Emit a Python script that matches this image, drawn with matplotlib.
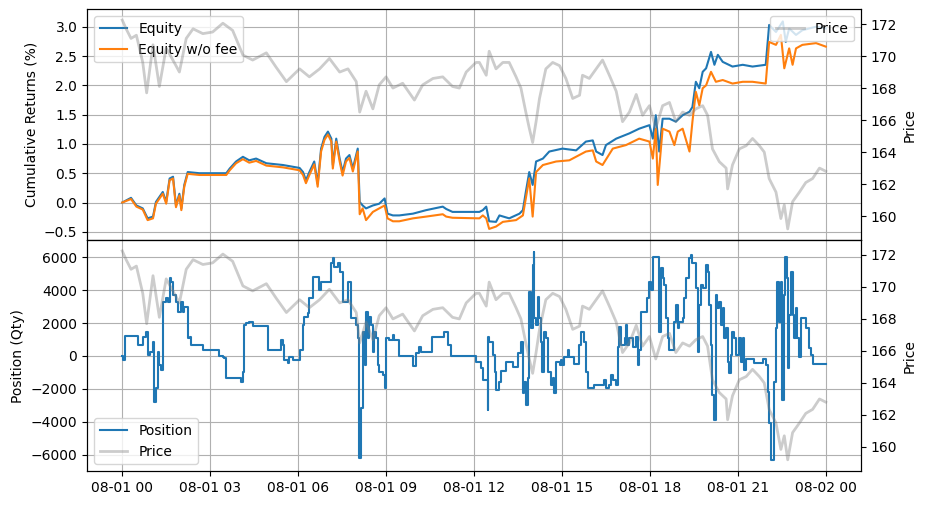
import pandas as pd
import numpy as np
import matplotlib.pyplot as plt
import matplotlib.dates as mdates

# minutes after 08-01 00:00
price_min = [0, 8, 18, 29, 42, 50, 63, 76, 90, 110, 117, 131, 145, 165, 185, 206, 226, 247, 267, 295,
             315, 336, 363, 383, 404, 424, 445, 462, 479, 486, 499, 513, 526, 540, 554, 574, 598, 615,
             636, 656, 676, 690, 704, 724, 731, 745, 751, 765, 779, 792, 806, 816, 826, 833, 840, 847,
             854, 867, 881, 895, 908, 922, 936, 942, 956, 970, 983, 997, 1011, 1024, 1038, 1052, 1065,
             1079, 1092, 1106, 1120, 1133, 1147, 1161, 1174, 1188, 1198, 1208, 1222, 1236, 1239, 1249,
             1263, 1277, 1290, 1304, 1314, 1324, 1338, 1348, 1355, 1362, 1372, 1386, 1399, 1413, 1427,
             1440]
price_val = [172.25, 171.7, 171.1, 171.3, 169.6, 167.7, 170.7, 168.1, 170.5, 169.4, 169.0, 171.1, 171.7,
             171.4, 171.5, 172.05, 171.6, 170.06, 169.75, 170.2, 169.3, 168.4, 169.2, 168.7, 169.2,
             169.85, 169.0, 169.2, 168.4, 166.5, 167.8, 166.7, 168.2, 168.7, 168.0, 168.3, 167.25, 168.2,
             168.6, 168.7, 168.1, 168.0, 169.0, 169.6, 169.6, 168.8, 170.3, 169.2, 169.6, 169.6, 168.7,
             168.0, 166.5, 165.5, 164.6, 165.9, 167.35, 169.2, 169.6, 169.4, 168.6, 167.35, 167.55,
             168.8, 168.6, 169.2, 169.75, 168.8, 167.8, 165.9, 166.5, 167.6, 166.3, 166.9, 165.5, 166.9,
             167.1, 165.9, 166.5, 166.3, 166.7, 166.9, 166.3, 164.2, 163.4, 163.0, 161.7, 163.2, 164.2,
             164.4, 164.85, 164.4, 164.0, 162.35, 161.5, 159.85, 160.7, 159.2, 160.9, 161.5, 162.1,
             162.35, 163.0, 162.8]

equity_min = [0, 18, 29, 42, 52, 63, 69, 83, 90, 97, 104, 110, 117, 121, 127, 134, 158, 213, 220, 233,
              247, 260, 274, 295, 329, 363, 370, 376, 383, 393, 400, 407, 414, 421, 428, 431, 438, 445,
              451, 458, 465, 472, 482, 486, 492, 499, 513, 526, 537, 543, 554, 567, 595, 622, 656, 663,
              676, 731, 738, 745, 751, 765, 772, 792, 813, 820, 826, 833, 840, 847, 861, 874, 901, 929,
              949, 963, 970, 983, 990, 1011, 1038, 1058, 1079, 1086, 1092, 1099, 1106, 1120, 1133, 1147,
              1161, 1167, 1174, 1181, 1188, 1195, 1205, 1212, 1219, 1229, 1249, 1270, 1290, 1317, 1324,
              1338, 1352, 1358, 1365, 1379, 1392, 1420, 1440]
equity_val = [0.0, 0.08, -0.05, -0.10, -0.27, -0.24, 0.01, 0.18, 0.01, 0.41, 0.44, -0.05, 0.15, -0.10,
              0.30, 0.52, 0.50, 0.50, 0.58, 0.70, 0.78, 0.72, 0.75, 0.67, 0.64, 0.59, 0.52, 0.38, 0.52,
              0.70, 0.32, 0.92, 1.12, 1.21, 1.09, 0.64, 1.09, 0.75, 0.52, 0.75, 0.81, 0.58, 0.92, 0.01,
              -0.05, -0.10, -0.05, -0.02, 0.07, -0.19, -0.22, -0.22, -0.19, -0.13, -0.07, -0.11, -0.16,
              -0.16, -0.13, -0.07, -0.32, -0.33, -0.22, -0.27, -0.19, -0.13, 0.18, 0.52, 0.30, 0.70, 0.75,
              0.87, 0.92, 0.89, 1.04, 1.06, 0.87, 0.81, 0.98, 1.09, 1.18, 1.26, 1.32, 1.09, 1.49, 0.87,
              1.43, 1.43, 1.38, 1.49, 1.55, 1.63, 2.06, 1.95, 2.23, 2.29, 2.57, 2.35, 2.52, 2.40, 2.32,
              2.35, 2.32, 2.35, 3.03, 2.91, 3.09, 2.74, 2.97, 2.86, 2.94, 3.00, 2.97]

nofee_min = [0, 18, 29, 42, 52, 63, 69, 83, 90, 97, 104, 110, 117, 121, 127, 134, 158, 213, 220, 233,
             247, 260, 274, 295, 329, 363, 370, 376, 383, 393, 400, 407, 414, 421, 428, 431, 438, 445,
             451, 458, 465, 472, 482, 486, 492, 499, 513, 526, 537, 543, 554, 567, 595, 622, 656, 663,
             676, 731, 738, 745, 751, 765, 779, 806, 820, 826, 833, 840, 847, 861, 888, 915, 949, 963,
             970, 983, 1004, 1031, 1058, 1079, 1086, 1092, 1096, 1102, 1106, 1120, 1130, 1137, 1147,
             1161, 1167, 1174, 1181, 1188, 1195, 1205, 1215, 1229, 1249, 1270, 1290, 1317, 1324, 1338,
             1348, 1355, 1365, 1372, 1379, 1392, 1420, 1440]
nofee_val = [0.0, 0.06, -0.07, -0.12, -0.30, -0.27, -0.02, 0.15, -0.02, 0.38, 0.41, -0.08, 0.12, -0.13,
             0.27, 0.49, 0.47, 0.47, 0.55, 0.67, 0.74, 0.68, 0.71, 0.63, 0.60, 0.55, 0.47, 0.33, 0.47,
             0.65, 0.27, 0.87, 1.07, 1.16, 1.04, 0.58, 1.04, 0.70, 0.46, 0.70, 0.76, 0.53, 0.87, -0.20,
             -0.10, -0.30, -0.16, -0.10, -0.05, -0.27, -0.32, -0.32, -0.27, -0.24, -0.20, -0.24, -0.26,
             -0.27, -0.22, -0.27, -0.45, -0.41, -0.33, -0.30, -0.22, 0.07, 0.41, -0.24, 0.52, 0.64, 0.70,
             0.72, 0.87, 0.89, 0.70, 0.64, 0.92, 0.98, 1.09, 1.04, 0.75, 1.26, 0.30, 0.87, 1.26, 1.21,
             0.98, 1.21, 1.26, 0.87, 1.38, 1.89, 1.66, 1.95, 2.00, 2.23, 2.06, 2.09, 2.03, 2.06, 2.06,
             2.03, 2.74, 2.69, 2.86, 2.29, 2.63, 2.35, 2.63, 2.69, 2.72, 2.66]

pos_min = [0, 2, 6, 32, 42, 48, 52, 56, 63, 66, 69, 73, 76, 80, 83, 90, 93, 97, 100, 104, 110, 114, 121,
           124, 127, 134, 138, 141, 165, 199, 206, 209, 213, 243, 247, 250, 254, 260, 267, 298, 325, 329,
           332, 339, 342, 349, 363, 370, 373, 380, 383, 390, 402, 407, 427, 431, 434, 441, 445, 451, 462,
           468, 479, 482, 485, 489, 492, 496, 499, 502, 506, 509, 513, 516, 520, 523, 526, 533, 537, 540,
           547, 554, 557, 567, 595, 601, 608, 612, 635, 659, 666, 673, 724, 734, 738, 748, 749, 751, 758,
           762, 765, 772, 775, 785, 799, 809, 816, 820, 823, 826, 830, 833, 837, 840, 842, 843, 847, 850,
           854, 857, 860, 864, 867, 871, 878, 881, 884, 888, 895, 898, 901, 905, 912, 915, 925, 935, 939,
           946, 949, 953, 966, 987, 990, 997, 1000, 1004, 1011, 1014, 1017, 1021, 1028, 1031, 1034, 1038,
           1045, 1051, 1055, 1058, 1062, 1075, 1079, 1082, 1086, 1099, 1103, 1106, 1109, 1113, 1116,
           1120, 1130, 1133, 1137, 1140, 1147, 1150, 1154, 1161, 1164, 1167, 1174, 1178, 1181, 1184,
           1188, 1195, 1198, 1201, 1205, 1208, 1212, 1215, 1218, 1222, 1225, 1229, 1232, 1236, 1239,
           1242, 1246, 1249, 1253, 1256, 1263, 1266, 1270, 1273, 1276, 1293, 1311, 1317, 1321, 1324,
           1328, 1334, 1338, 1341, 1345, 1348, 1351, 1355, 1357, 1360, 1362, 1365, 1368, 1372, 1375,
           1379, 1382, 1386, 1389, 1399, 1406, 1409, 1413, 1440]
pos_val = [0, -240, 1230, 650, 1170, 1470, 60, 260, 870, -2770, -1960, 260, -550, -850, 3290, 3490, 3290,
           4710, 4510, 3700, 3290, 2690, 3290, 2690, 2990, 1070, 1170, 670, 360, 20, -40, -140, -1350,
           -1560, -950, 1880, 1980, 2080, 1840, 360, 970, 670, -240, -440, -40, -240, 360, 1880, 2380,
           2590, 3490, 4810, 4000, 4510, 5620, 5920, 5410, 5620, 5110, 3290, 4510, 2280, 1880, 1070,
           -6200, -3170, 1470, -550, 2690, 1070, 2380, 1880, 260, 1470, 1070, -550, -950, -1150, -1960,
           1070, 970, 1270, 970, 20, -590, 160, 570, 260, 1170, 1470, 670, 20, -340, -750, -1450, -3270,
           1170, 870, 60, -950, -2060, -1560, -890, -340, -650, 160, 870, -2260, -1560, -2970, -1350,
           3900, 1680, 5520, 6320, 2280, 1880, 3600, 2280, 870, -950, 1470, 1070, -950, -1760, -1350,
           -2260, -340, -550, -240, -550, -40, 360, -40, -510, 670, 1470, 870, -950, -1960, -1760,
           -1450, -1960, -1760, -1150, -1450, -1760, 570, 1780, 670, 1070, 1880, 670, 1070, 570, 1170,
           -550, 360, 2690, 3490, 4510, 4000, 6020, 1470, 5310, 4710, 4300, 2280, 1070, 360, 2080, 3090,
           1680, 2080, 2280, 3490, 4710, 5920, 6120, 5620, 4100, 260, 3090, 4300, 4100, 5520, 5110,
           3090, 670, -2360, -3880, 3700, 2890, 3290, 1880, 2890, 1070, 1680, -340, -1050, 60, 1470,
           1070, 60, 1070, -340, 1070, -850, -180, -440, -180, -550, -2160, -4080, -6300, -1560, 1680,
           4510, 2080, 4510, -2670, 3700, 6020, 4710, -750, 2480, 5110, 2480, 1070, 2890, 1070, -40,
           2280, 1680, 460, 60, -510, -510]

start = pd.Timestamp('2023-08-01')


def to_time(minutes):
    return start + pd.to_timedelta(np.array(minutes), unit='min')


price_t = to_time(price_min)

fig, (ax1, ax2) = plt.subplots(2, 1, sharex=True, figsize=(9.27, 5.05), dpi=100)
fig.subplots_adjust(left=0.0939, right=0.9288, top=0.9816, bottom=0.0673, hspace=0)

# top panel: returns
ax1.plot(to_time(equity_min), equity_val, label='Equity')
ax1.plot(to_time(nofee_min), nofee_val, label='Equity w/o fee')
ax1.set_ylabel('Cumulative Returns (%)')
ax1.set_ylim(-0.642, 3.297)
ax1.grid(True)
ax1.legend(loc='upper left')

ax1b = ax1.twinx()
ax1b.plot(price_t, price_val, color='grey', alpha=0.4, lw=2, label='Price')
ax1b.set_ylabel('Price')
ax1b.set_ylim(158.5, 172.92)
ax1b.legend(loc='upper right')

# bottom panel: position
l1, = ax2.plot(to_time(pos_min), pos_val, drawstyle='steps-post', label='Position')
ax2.set_ylabel('Position (Qty)')
ax2.set_ylim(-6980, 7030)
ax2.grid(True)

ax2b = ax2.twinx()
l2, = ax2b.plot(price_t, price_val, color='grey', alpha=0.4, lw=2, label='Price')
ax2b.set_ylabel('Price')
ax2b.set_ylim(158.5, 172.92)
ax2.legend([l1, l2], ['Position', 'Price'], loc='lower left')

ax2.set_xlim(start - pd.Timedelta(minutes=72), start + pd.Timedelta(minutes=1512))
ax2.xaxis.set_major_locator(mdates.HourLocator(byhour=range(0, 24, 3)))
ax2.xaxis.set_major_formatter(mdates.DateFormatter('%m-%d %H'))

plt.savefig('out.png')
